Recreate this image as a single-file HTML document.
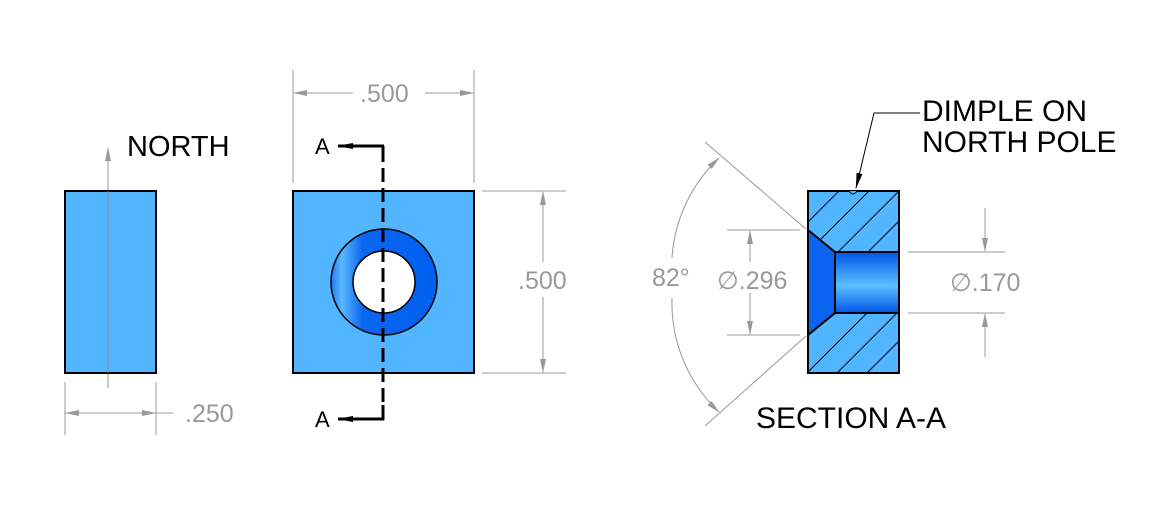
<!DOCTYPE html>
<html><head><meta charset="utf-8"><style>
body{margin:0;background:#fff}
text{font-family:"Liberation Sans",Arial,sans-serif}
</style></head><body>
<svg width="1159" height="508" viewBox="0 0 1159 508" xmlns="http://www.w3.org/2000/svg">
<defs>
<marker id="ag" markerWidth="14" markerHeight="8" refX="13" refY="4" orient="auto" markerUnits="userSpaceOnUse"><path d="M0,1 L14,4 L0,7 Z" fill="#999"/></marker>
<marker id="ab" markerWidth="16" markerHeight="8" refX="15" refY="4" orient="auto" markerUnits="userSpaceOnUse"><path d="M0,1 L16,4 L0,7 Z" fill="#000"/></marker>
<linearGradient id="ring" x1="0" y1="0" x2="1" y2="0">
<stop offset="0" stop-color="#1f78f0"/><stop offset="0.1" stop-color="#5ab8ff"/><stop offset="0.3" stop-color="#0a66f0"/><stop offset="1" stop-color="#0060f0"/></linearGradient>
<linearGradient id="hole" x1="0" y1="0" x2="0" y2="1">
<stop offset="0" stop-color="#0055e8"/><stop offset="0.55" stop-color="#5cc0ff"/><stop offset="1" stop-color="#0055e8"/></linearGradient>
<clipPath id="sec"><rect x="808" y="191" width="91" height="182"/></clipPath>
</defs>
<g stroke="#999" stroke-width="1" fill="none">
<line x1="108" y1="388" x2="108" y2="148" marker-end="url(#ag)"/>
<line x1="65" y1="382" x2="65" y2="435"/><line x1="156" y1="382" x2="156" y2="435"/>
<line x1="110" y1="413" x2="66" y2="413" marker-end="url(#ag)"/>
<line x1="110" y1="413" x2="155" y2="413" marker-end="url(#ag)"/>
<line x1="155" y1="413" x2="173" y2="413"/>
<line x1="293" y1="70" x2="293" y2="183"/><line x1="474" y1="70" x2="474" y2="183"/>
<line x1="353" y1="93" x2="294" y2="93" marker-end="url(#ag)"/>
<line x1="425" y1="93" x2="473" y2="93" marker-end="url(#ag)"/>
<line x1="482" y1="191" x2="566" y2="191"/><line x1="482" y1="373" x2="566" y2="373"/>
<line x1="543" y1="262" x2="543" y2="192" marker-end="url(#ag)"/>
<line x1="543" y1="297" x2="543" y2="372" marker-end="url(#ag)"/>
<line x1="806" y1="229" x2="705" y2="142"/>
<line x1="806" y1="336" x2="705" y2="426"/>
<path d="M672,258 A150,150 0 0 1 719,158" marker-end="url(#ag)"/>
<path d="M672,298 A150,150 0 0 0 719,412" marker-end="url(#ag)"/>
<line x1="727" y1="230" x2="800" y2="230"/><line x1="727" y1="335" x2="800" y2="335"/>
<line x1="750" y1="262" x2="750" y2="231" marker-end="url(#ag)"/>
<line x1="750" y1="293" x2="750" y2="334" marker-end="url(#ag)"/>
<line x1="908" y1="252" x2="1005" y2="252"/><line x1="908" y1="313" x2="1005" y2="313"/>
<line x1="985" y1="208" x2="985" y2="251" marker-end="url(#ag)"/>
<line x1="985" y1="357" x2="985" y2="314" marker-end="url(#ag)"/>
</g>
<g fill="#999" font-size="25">
<text x="185" y="422">.250</text>
<text x="360" y="102">.500</text>
<text x="518" y="289">.500</text>
<text x="652" y="286">82°</text>
<text x="717" y="289">∅.296</text>
<text x="950" y="291">∅.170</text>
</g>
<rect x="65" y="191" width="91" height="182" fill="#52b5ff" stroke="#000" stroke-width="2"/>
<line x1="108" y1="191" x2="108" y2="373" stroke="#888" stroke-width="1"/>
<text x="127" y="156" font-size="29">NORTH</text>
<rect x="293" y="191" width="181" height="182" fill="#52b5ff" stroke="#000" stroke-width="2"/>
<circle cx="384" cy="282" r="53" fill="url(#ring)" stroke="#000" stroke-width="1.5"/>
<circle cx="384" cy="282" r="31" fill="#fff" stroke="#000" stroke-width="1.5"/>
<line x1="383" y1="148" x2="383" y2="418" stroke="#000" stroke-width="3" stroke-dasharray="14,6"/>
<line x1="383" y1="146" x2="383" y2="160" stroke="#000" stroke-width="3"/>
<line x1="383" y1="405" x2="383" y2="420" stroke="#000" stroke-width="3"/>
<line x1="384" y1="146" x2="338" y2="146" stroke="#000" stroke-width="3" marker-end="url(#ab)"/>
<line x1="384" y1="419" x2="338" y2="419" stroke="#000" stroke-width="3" marker-end="url(#ab)"/>
<text x="315" y="154" font-size="22">A</text>
<text x="315" y="427" font-size="22">A</text>
<rect x="808" y="191" width="91" height="182" fill="#52b5ff"/>
<g clip-path="url(#sec)" stroke="#000" stroke-width="1">
<line x1="790" y1="240" x2="850" y2="180"/>
<line x1="810" y1="250" x2="880" y2="180"/>
<line x1="830" y1="260" x2="910" y2="180"/>
<line x1="850" y1="270" x2="940" y2="180"/>
<line x1="790" y1="390" x2="880" y2="300"/>
<line x1="810" y1="400" x2="920" y2="290"/>
<line x1="840" y1="400" x2="940" y2="300"/>
<line x1="870" y1="400" x2="960" y2="310"/>
</g>
<path d="M808,230 L835,252 L835,313 L808,335 Z" fill="#0a64f0" stroke="#000" stroke-width="2"/>
<rect x="835" y="252" width="64" height="61" fill="url(#hole)" stroke="#000" stroke-width="2"/>
<rect x="808" y="191" width="91" height="182" fill="none" stroke="#000" stroke-width="2"/>
<path d="M849,191 Q853,197 857,191" fill="#52b5ff" stroke="#000" stroke-width="1"/>
<polyline points="920,113 874,113 856,188" fill="none" stroke="#000" stroke-width="1" marker-end="url(#ab)"/>
<text x="922" y="121" font-size="30">DIMPLE ON</text>
<text x="922" y="152" font-size="30">NORTH POLE</text>
<text x="756" y="428" font-size="30">SECTION A-A</text>
</svg>
</body></html>
